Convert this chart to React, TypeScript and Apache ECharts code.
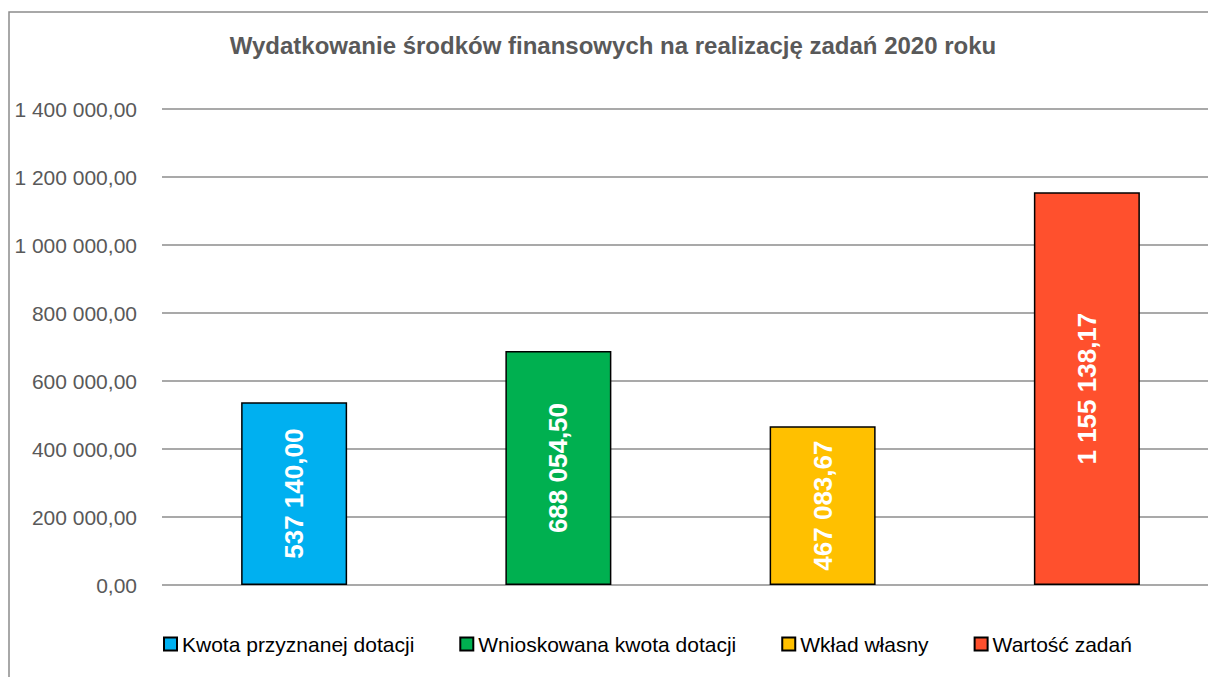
import React, { useEffect, useRef } from "react";
import * as echarts from "echarts";

const title = "Wydatkowanie środków finansowych na realizację zadań 2020 roku";
const seriesNames = [
  "Kwota przyznanej dotacji",
  "Wnioskowana kwota dotacji",
  "Wkład własny",
  "Wartość zadań",
];
const seriesValues = [537140.0, 688054.5, 467083.67, 1155138.17];
const seriesColors = ["#00B0F0", "#00B050", "#FFC000", "#FF502D"];
const yTicks = [0, 200000, 400000, 600000, 800000, 1000000, 1200000, 1400000];

function fmtPL(v: number): string {
  const [intPart, dec] = Math.abs(v).toFixed(2).split(".");
  const grouped = intPart.replace(/\B(?=(\d{3})+(?!\d))/g, " ");
  return (v < 0 ? "-" : "") + grouped + "," + dec;
}

export default function App() {
  const ref = useRef<HTMLDivElement>(null);
  useEffect(() => {
    if (!ref.current) return;
    const chart = echarts.init(ref.current, null, { renderer: "svg" });
    const series = seriesNames.map((name, i) => ({
      name,
      type: "bar" as const,
      stack: "all",
      barWidth: 106,
      data: seriesValues.map((v, j) => (j === i ? v : "-")),
      itemStyle: { color: seriesColors[i], borderColor: "#000", borderWidth: 1.5 },
      label: {
        show: true,
        position: "inside",
        rotate: 90,
        color: "#fff",
        fontWeight: "bold",
        fontSize: 26,
        fontFamily: "Liberation Sans, Arial, sans-serif",
        formatter: (p: any) => fmtPL(p.value),
      },
    }));
    chart.setOption({
      animation: false,
      backgroundColor: "#fff",
      title: {
        text: title,
        left: 613,
        textAlign: "center",
        top: 33,
        padding: 0,
        textStyle: {
          fontSize: 24,
          fontWeight: "bold",
          color: "#595959",
          fontFamily: "Liberation Sans, Arial, sans-serif",
        },
      },
      graphic: [
        {
          type: "rect",
          shape: { x: 9, y: 12, width: 1300, height: 800 },
          style: { fill: "none", stroke: "#8c8c8c", lineWidth: 1.5 },
          silent: true,
        },
      ],
      legend: {
        data: seriesNames,
        left: 163,
        top: 632,
        padding: 0,
        icon: "rect",
        itemWidth: 13,
        itemHeight: 13,
        itemGap: 45,
        textStyle: {
          fontSize: 21,
          color: "#000",
          lineHeight: 24,
          fontFamily: "Liberation Sans, Arial, sans-serif",
        },
      },
      grid: { left: 162, top: 109, width: 1057, height: 476 },
      xAxis: {
        type: "category",
        data: seriesNames,
        axisLabel: { show: false },
        axisTick: { show: false },
        axisLine: { show: false },
      },
      yAxis: {
        type: "value",
        min: yTicks[0],
        max: yTicks[yTicks.length - 1],
        interval: yTicks[1] - yTicks[0],
        axisLine: { show: false },
        axisTick: { show: false },
        splitLine: { lineStyle: { color: "#8c8c8c", width: 1.5 } },
        axisLabel: {
          margin: 25,
          fontSize: 21,
          color: "#595959",
          fontFamily: "Liberation Sans, Arial, sans-serif",
          formatter: (v: number) => fmtPL(v),
        },
      },
      series,
    });
    return () => chart.dispose();
  }, []);
  return (
    <div
      style={{
        position: "fixed",
        left: 0,
        top: 0,
        width: 1208,
        height: 677,
        overflow: "hidden",
        background: "#fff",
      }}
    >
      <div ref={ref} style={{ width: 1240, height: 690 }} />
    </div>
  );
}
